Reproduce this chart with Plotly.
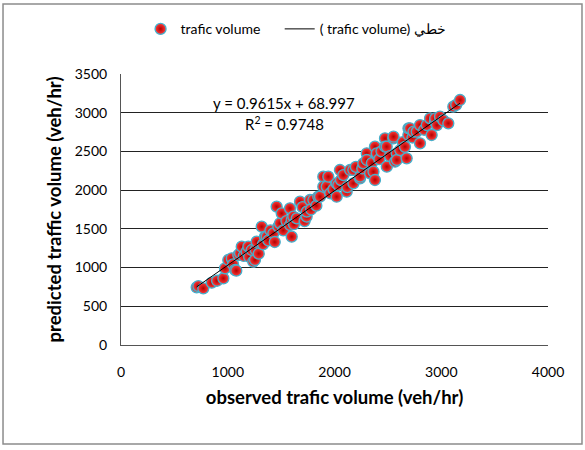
import numpy as np
import plotly.graph_objects as go

# observed vs predicted traffic volume (veh/hr)
observed = [709, 725, 771, 850, 900, 959, 974, 1005, 1037, 1050, 1068, 1080, 1099, 1115, 1131,
            1150, 1177, 1193, 1200, 1224, 1239, 1255, 1260, 1271, 1290, 1318, 1330, 1349, 1365,
            1380, 1400, 1427, 1440, 1458, 1474, 1489, 1505, 1520, 1550, 1583, 1583, 1599, 1599,
            1614, 1620, 1646, 1677, 1700, 1720, 1739, 1740, 1770, 1780, 1802, 1830, 1848, 1864,
            1895, 1895, 1927, 1942, 1960, 1990, 2020, 2020, 2036, 2051, 2060, 2083, 2114, 2120,
            2146, 2176, 2177, 2200, 2239, 2240, 2260, 2270, 2302, 2302, 2333, 2350, 2365, 2379,
            2379, 2395, 2396, 2420, 2440, 2473, 2474, 2489, 2490, 2520, 2551, 2553, 2567, 2583,
            2584, 2615, 2640, 2660, 2676, 2692, 2693, 2707, 2730, 2740, 2770, 2801, 2801, 2840,
            2864, 2895, 2910, 2941, 2943, 2960, 2988, 3020, 3066, 3113, 3140, 3176]
predicted = [745, 760, 732, 805, 830, 861, 990, 1098, 1120, 1040, 969, 960, 1162, 1185, 1270,
             1150, 1205, 1270, 1140, 1227, 1076, 1098, 1230, 1334, 1180, 1528, 1300, 1399, 1399,
             1350, 1480, 1442, 1330, 1787, 1528, 1572, 1700, 1480, 1600, 1765, 1550, 1614, 1399,
             1658, 1560, 1636, 1851, 1780, 1600, 1658, 1722, 1873, 1750, 1873, 1800, 1915, 1916,
             2174, 2045, 2045, 2174, 1960, 2010, 2088, 1915, 2066, 2260, 2130, 2195, 1980, 2040,
             2260, 2260, 2088, 2300, 2153, 2174, 2280, 2346, 2476, 2389, 2217, 2350, 2238, 2131,
             2561, 2454, 2475, 2400, 2500, 2669, 2561, 2561, 2303, 2440, 2669, 2690, 2368, 2476,
             2389, 2518, 2620, 2560, 2411, 2712, 2798, 2798, 2680, 2755, 2755, 2841, 2605, 2780,
             2841, 2927, 2712, 2884, 2927, 2840, 2949, 2900, 2863, 3078, 3100, 3164]

# linear trendline shown on the chart
slope = 0.9615
intercept = 68.997

x_ticks = [0, 1000, 2000, 3000, 4000]
y_ticks = [0, 500, 1000, 1500, 2000, 2500, 3000, 3500]

FONT = "Lato, 'Open Sans', sans-serif"

fig = go.Figure()

fig.add_trace(go.Scatter(
    x=observed, y=predicted, mode="markers",
    name="trafic volume" + "\u00a0" * 4,
    marker=dict(size=11, color="#ff3b3b",
                gradient=dict(type="radial", color="#b30000"),
                line=dict(color="#45b0cc", width=1.3)),
))

xl = np.array([min(observed), max(observed)])
fig.add_trace(go.Scatter(
    x=xl, y=slope * xl + intercept, mode="lines",
    name="( trafic volume) خطي",
    line=dict(color="black", width=1),
))

fig.add_annotation(x=1530, y=3120, xref="x", yref="y", showarrow=False,
                   text="y = 0.9615x + 68.997", font=dict(size=15, color="black"))
fig.add_annotation(x=1530, y=2855, xref="x", yref="y", showarrow=False,
                   text="R<sup>2</sup> = 0.9748", font=dict(size=15, color="black"))

# chart border
fig.add_shape(type="rect", xref="paper", yref="paper",
              x0=-0.2763, x1=1.0796, y0=-0.365, y1=1.258,
              line=dict(color="#8c8c8c", width=1.5))

fig.update_layout(
    width=585, height=450,
    margin=dict(l=121, r=37, t=74, b=105),
    paper_bgcolor="white", plot_bgcolor="white",
    font=dict(family=FONT, size=14, color="black"),
    legend=dict(orientation="h", x=0.41, y=1.165, xanchor="center", yanchor="middle",
                font=dict(size=14), bgcolor="rgba(0,0,0,0)"),
    xaxis=dict(range=[0, 4000], tickvals=x_ticks, showgrid=False, zeroline=False,
               showline=True, linecolor="#555", linewidth=1, ticks="",
               ticklabelstandoff=14,
               title=dict(text="<b>observed trafic volume (veh/hr)</b>",
                          font=dict(size=18.5), standoff=12)),
    yaxis=dict(range=[0, 3500], tickvals=y_ticks, showgrid=True, gridcolor="#222",
               gridwidth=1, zeroline=False, showline=True, linecolor="#555", linewidth=1,
               ticks="", ticklabelstandoff=10,
               title=dict(text="<b>predicted traffic volume (veh/hr)</b>",
                          font=dict(size=18.5), standoff=8)),
)

fig.write_html("out.html", config={"displayModeBar": False},
               post_script="document.body.style.margin='0';")
